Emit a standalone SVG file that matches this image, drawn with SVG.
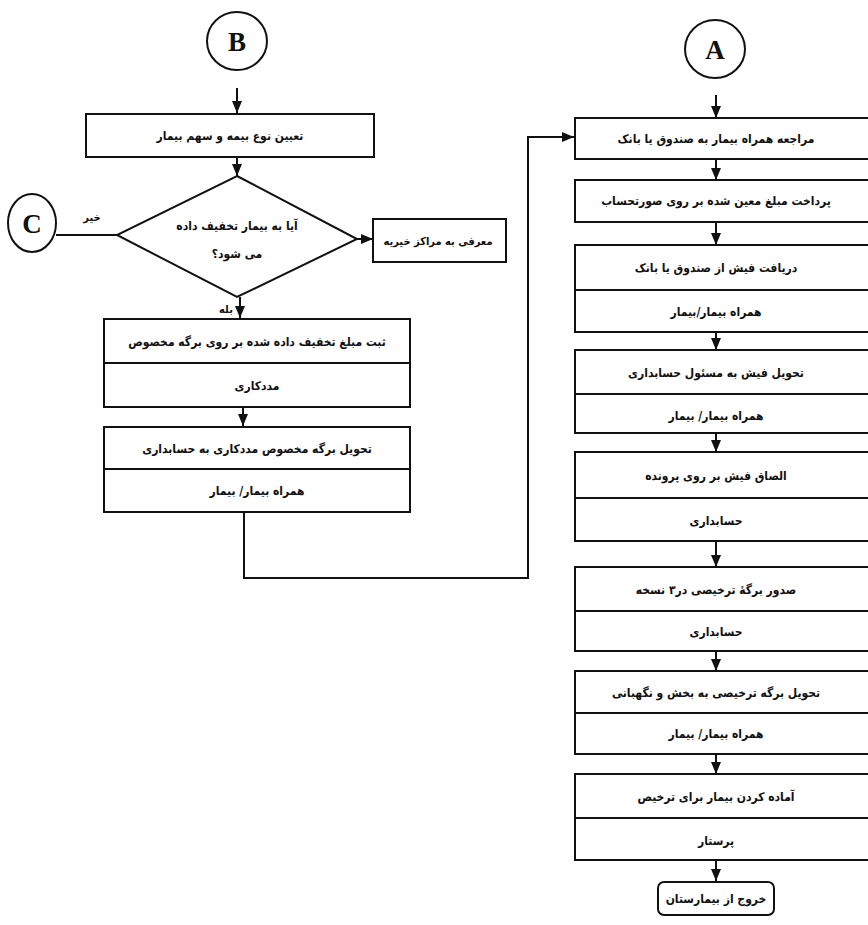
<svg xmlns="http://www.w3.org/2000/svg" width="868" height="925" viewBox="0 0 868 925">
  <style>
    .shape { fill: #ffffff; stroke: #111111; stroke-width: 2; }
    .div { stroke: #111111; stroke-width: 2; }
    .conn { fill: none; stroke: #111111; stroke-width: 2; }
    .t { font-family: "DejaVu Sans Condensed", "DejaVu Sans", sans-serif; font-weight: bold; font-size: 12px; fill: #111111; text-anchor: middle; direction: rtl; }
    .sm { font-size: 11px; }
    .lbl { font-family: "DejaVu Sans Condensed", "DejaVu Sans", sans-serif; font-weight: bold; font-size: 11px; fill: #111111; direction: rtl; }
    .letter { font-family: "Liberation Serif", "DejaVu Serif", serif; font-weight: bold; font-size: 27px; fill: #111111; text-anchor: middle; }
  </style>
  <defs>
    <marker id="arrow" viewBox="0 0 12 10" refX="12" refY="5" markerWidth="6" markerHeight="5" orient="auto" markerUnits="strokeWidth">
      <path d="M0,0 L12,5 L0,10 z" fill="#111111"/>
    </marker>
  </defs>
  <rect width="868" height="925" fill="#ffffff"/>

  <!-- connectors -->
  <g id="connectors">
    <line class="conn" x1="237" y1="88" x2="237" y2="113" marker-end="url(#arrow)"/>
    <line class="conn" x1="237" y1="157" x2="237" y2="176" marker-end="url(#arrow)"/>
    <line class="conn" x1="357" y1="239" x2="373" y2="239" marker-end="url(#arrow)"/>
    <line class="conn" x1="56" y1="235" x2="117" y2="235"/>
    <line class="conn" x1="240" y1="297" x2="240" y2="318" marker-end="url(#arrow)"/>
    <line class="conn" x1="243" y1="408" x2="243" y2="426" marker-end="url(#arrow)"/>
    <polyline class="conn" points="244,512 244,578 528,578 528,137 574,137" marker-end="url(#arrow)"/>
    <line class="conn" x1="716" y1="95" x2="716" y2="118" marker-end="url(#arrow)"/>
    <line class="conn" x1="716" y1="159" x2="716" y2="180" marker-end="url(#arrow)"/>
    <line class="conn" x1="716" y1="222" x2="716" y2="245" marker-end="url(#arrow)"/>
    <line class="conn" x1="716" y1="332" x2="716" y2="350" marker-end="url(#arrow)"/>
    <line class="conn" x1="716" y1="433" x2="716" y2="452" marker-end="url(#arrow)"/>
    <line class="conn" x1="716" y1="541" x2="716" y2="567" marker-end="url(#arrow)"/>
    <line class="conn" x1="716" y1="651" x2="716" y2="671" marker-end="url(#arrow)"/>
    <line class="conn" x1="716" y1="754" x2="716" y2="774" marker-end="url(#arrow)"/>
    <line class="conn" x1="716" y1="860" x2="716" y2="881" marker-end="url(#arrow)"/>
    <text class="lbl" x="92" y="221" text-anchor="middle">خیر</text>
    <text class="lbl" x="226" y="313" text-anchor="middle">بله</text>
  </g>

  <!-- left column -->
  <g id="node-b">
    <ellipse class="shape" cx="237" cy="41" rx="30" ry="29"/>
    <text class="letter" x="237" y="51">B</text>
  </g>
  <g id="node-insurance">
    <rect class="shape" x="86" y="114" width="288" height="43"/>
    <text class="t" x="230" y="140">تعیین نوع بیمه و سهم بیمار</text>
  </g>
  <g id="node-discount">
    <polygon class="shape" points="237,176 357,239 237,297 117,235"/>
    <text class="t" x="237" y="230">آیا به بیمار تخفیف داده</text>
    <text class="t" x="237" y="258">می شود؟</text>
  </g>
  <g id="node-c">
    <ellipse class="shape" cx="32" cy="223" rx="24" ry="29"/>
    <text class="letter" x="32" y="233">C</text>
  </g>
  <g id="node-charity">
    <rect class="shape" x="373" y="219" width="133" height="43"/>
    <text class="t sm" x="438" y="245">معرفی به مراکز خیریه</text>
  </g>
  <g id="node-record">
    <rect class="shape" x="104" y="319" width="306" height="88"/>
    <line class="div" x1="104" y1="363" x2="410" y2="363"/>
    <text class="t" x="257" y="346">ثبت مبلغ تخفیف داده شده بر روی برگه مخصوص</text>
    <text class="t" x="257" y="390">مددکاری</text>
  </g>
  <g id="node-deliver-form">
    <rect class="shape" x="104" y="427" width="306" height="85"/>
    <line class="div" x1="104" y1="469" x2="410" y2="469"/>
    <text class="t" x="257" y="453">تحویل برگه مخصوص مددکاری به حسابداری</text>
    <text class="t" x="257" y="495">همراه بیمار/ بیمار</text>
  </g>

  <!-- right column -->
  <g id="node-a">
    <ellipse class="shape" cx="715" cy="49" rx="30" ry="29"/>
    <text class="letter" x="715" y="59">A</text>
  </g>
  <g id="node-visit-cashier">
    <rect class="shape" x="575" y="118" width="300" height="41"/>
    <text class="t" x="716" y="143">مراجعه همراه  بیمار به صندوق یا بانک</text>
  </g>
  <g id="node-pay">
    <rect class="shape" x="575" y="180" width="300" height="42"/>
    <text class="t" x="716" y="205">پرداخت مبلغ معین شده بر روی صورتحساب</text>
  </g>
  <g id="node-receipt">
    <rect class="shape" x="575" y="245" width="300" height="87"/>
    <line class="div" x1="575" y1="290" x2="875" y2="290"/>
    <text class="t" x="716" y="272">دریافت فیش از صندوق یا بانک</text>
    <text class="t" x="716" y="316">همراه بیمار/بیمار</text>
  </g>
  <g id="node-deliver-receipt">
    <rect class="shape" x="575" y="350" width="300" height="83"/>
    <line class="div" x1="575" y1="394" x2="875" y2="394"/>
    <text class="t" x="716" y="377">تحویل فیش به مسئول حسابداری</text>
    <text class="t" x="716" y="420">همراه بیمار/ بیمار</text>
  </g>
  <g id="node-attach">
    <rect class="shape" x="575" y="452" width="300" height="89"/>
    <line class="div" x1="575" y1="498" x2="875" y2="498"/>
    <text class="t" x="716" y="480">الصاق فیش بر روی پرونده</text>
    <text class="t" x="716" y="525">حسابداری</text>
  </g>
  <g id="node-issue">
    <rect class="shape" x="575" y="567" width="300" height="84"/>
    <line class="div" x1="575" y1="611" x2="875" y2="611"/>
    <text class="t" x="716" y="594">صدور برگهٔ ترخیصی در۳ نسخه</text>
    <text class="t" x="716" y="636">حسابداری</text>
  </g>
  <g id="node-deliver-discharge">
    <rect class="shape" x="575" y="671" width="300" height="83"/>
    <line class="div" x1="575" y1="713" x2="875" y2="713"/>
    <text class="t" x="716" y="697">تحویل برگه ترخیصی به بخش و نگهبانی</text>
    <text class="t" x="716" y="738">همراه بیمار/ بیمار</text>
  </g>
  <g id="node-prepare">
    <rect class="shape" x="575" y="774" width="300" height="86"/>
    <line class="div" x1="575" y1="818" x2="875" y2="818"/>
    <text class="t" x="716" y="801">آماده کردن بیمار برای ترخیص</text>
    <text class="t" x="716" y="845">پرستار</text>
  </g>
  <g id="node-exit">
    <rect class="shape" x="658" y="882" width="116" height="33" rx="6" ry="6"/>
    <text class="t" x="716" y="903">خروج از بیمارستان</text>
  </g>
</svg>
